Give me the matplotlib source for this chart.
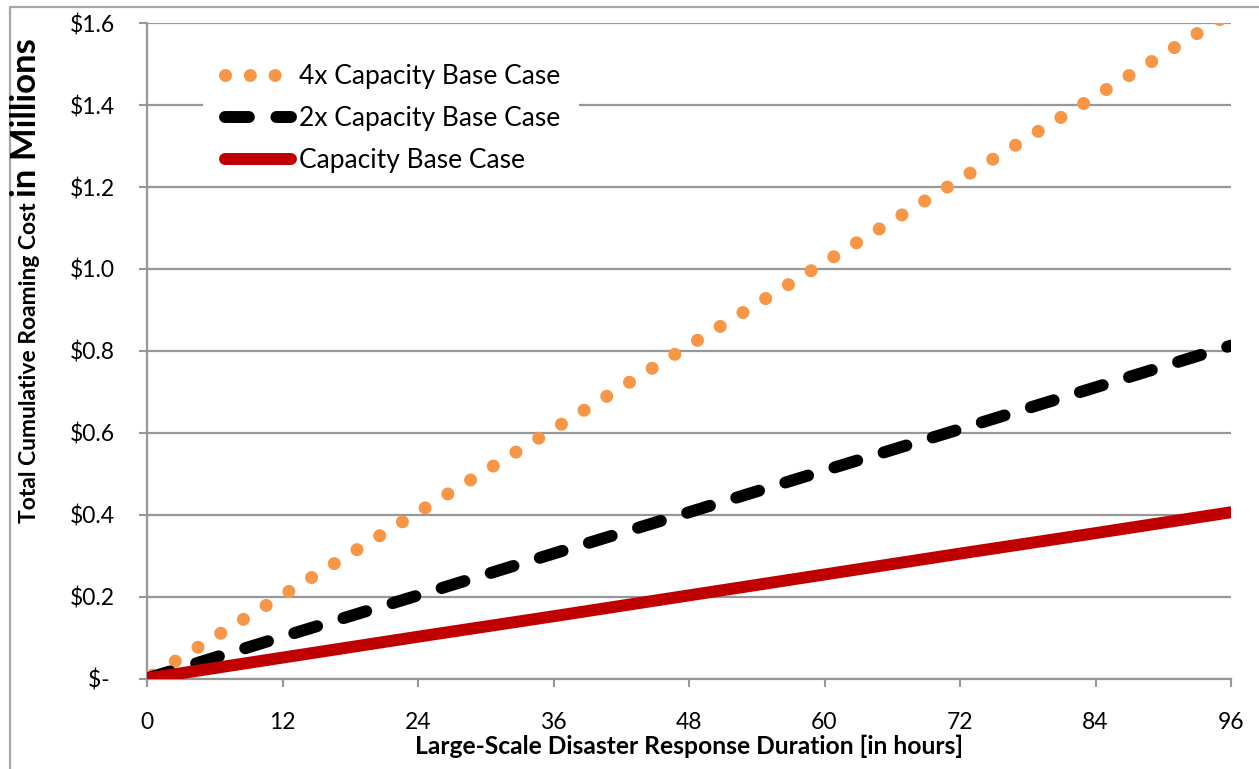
import matplotlib
matplotlib.use("Agg")
import matplotlib.pyplot as plt
from matplotlib.patches import Rectangle
from matplotlib.lines import Line2D

plt.rcParams['font.family'] = ['Lato', 'DejaVu Sans']

# hours and cumulative cost in $ millions
hours = [0, 12, 24, 36, 48, 60, 72, 84, 96]
base_case = [0, 0.051, 0.102, 0.152, 0.203, 0.254, 0.305, 0.355, 0.406]
base_2x = [0, 0.102, 0.203, 0.305, 0.406, 0.508, 0.609, 0.711, 0.813]
base_4x = [0, 0.203, 0.406, 0.609, 0.813, 1.016, 1.219, 1.422, 1.626]

series_names = ['4x Capacity Base Case', '2x Capacity Base Case', 'Capacity Base Case']

x_ticks = [0, 12, 24, 36, 48, 60, 72, 84, 96]
y_ticks = [0, 0.2, 0.4, 0.6, 0.8, 1.0, 1.2, 1.4, 1.6]
y_labels = ['$- ', '$0.2', '$0.4', '$0.6', '$0.8', '$1.0', '$1.2', '$1.4', '$1.6']

W, H = 1259, 769
GRAY = '#979797'
ORANGE, RED = '#F79646', '#C00000'

fig = plt.figure(figsize=(W / 100, H / 100), dpi=100)
ax = fig.add_axes([147 / W, 1 - 678.5 / H, (1231 - 147) / W, (678.5 - 23.3) / H])

ax.plot(hours, base_4x, color=ORANGE, lw=9.4, linestyle=(1.54, (0.001, 2.04)),
        dash_capstyle='round', zorder=3)
ax.plot(hours, base_2x, color='black', lw=8.6, linestyle=(0, (2.0, 2.3)),
        dash_capstyle='round', zorder=3)
ax.plot(hours, base_case, color=RED, lw=8.6, solid_capstyle='round', zorder=3)

ax.set_xlim(0, 96)
ax.set_ylim(0, 1.6)
ax.set_xticks(x_ticks)
ax.set_yticks(y_ticks)
ax.set_yticklabels(y_labels)
ax.tick_params(axis='both', direction='out', length=6, width=1.5, color=GRAY,
               labelsize=16.5, labelcolor='black')
ax.tick_params(axis='y', pad=17)
ax.tick_params(axis='x', pad=18)

ax.grid(axis='y', color=GRAY, lw=1.6)
ax.set_axisbelow(True)
for side in ['top', 'right']:
    ax.spines[side].set_visible(False)
for side in ['left', 'bottom']:
    ax.spines[side].set_color(GRAY)
    ax.spines[side].set_linewidth(1.6)

ax.set_xlabel('Large-Scale Disaster Response Duration [in hours]',
              fontsize=17.7, fontweight='bold', labelpad=1)

# white box behind the legend hides the gridline
ax.add_patch(Rectangle((203 / W, 1 - 180 / H), (579 - 203) / W, 130 / H,
                       transform=fig.transFigure, facecolor='white',
                       edgecolor='none', zorder=2.5))

handles = [
    Line2D([], [], color=ORANGE, lw=9.4, linestyle=(0, (0.001, 1.9)),
           dash_capstyle='round'),
    Line2D([], [], color='black', lw=8.6, linestyle=(0, (2.0, 2.3)),
           dash_capstyle='round'),
    Line2D([], [], color=RED, lw=8.6, solid_capstyle='round'),
]
leg = ax.legend(handles, series_names, loc='upper left',
                bbox_to_anchor=(225 / W, 1 - 64 / H),
                bbox_transform=fig.transFigure, frameon=False, fontsize=19,
                handlelength=2.5, handletextpad=0.3, labelspacing=0.64,
                borderpad=0, borderaxespad=0)
leg.set_zorder(5)

# y label in two sizes
renderer = fig.canvas.get_renderer()
t1 = fig.text(30 / W, 1 - 523 / H, 'Total Cumulative Roaming Cost ',
              rotation=90, rotation_mode='anchor', ha='left', va='center',
              fontsize=16.5, fontweight='bold')
ext = t1.get_window_extent(renderer)
fig.text(26 / W, ext.y1 / H, 'in Millions', rotation=90, rotation_mode='anchor',
         ha='left', va='center', fontsize=25, fontweight='bold')

# outer chart border
fig.add_artist(Line2D([10 / W, 10 / W, 1.01], [-0.01, 1 - 7 / H, 1 - 7 / H],
                      transform=fig.transFigure, color='#A6A6A6', lw=1.6))

fig.savefig('out.png', dpi=100)
